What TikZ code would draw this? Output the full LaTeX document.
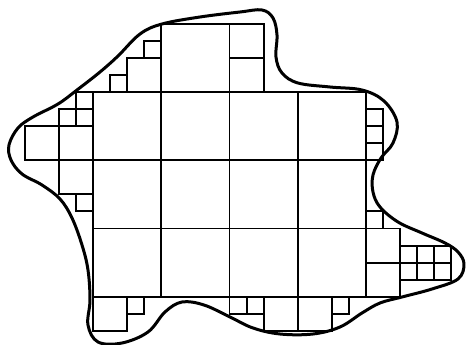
\documentclass[tikz,border=0pt]{standalone}
\begin{document}
\begin{tikzpicture}[x=1pt,y=-1pt,
  cell/.style={draw=black, line width=1.9pt},
  outline/.style={draw=black, line width=3pt, line join=round}]
\useasboundingbox (0,0) rectangle (467,345);
\begin{scope}[xshift=93pt,yshift=-92pt,x=17.0625pt,y=-17.0625pt]
  % main 4x3 block of big squares
  \foreach \i in {0,4,8,12} \foreach \j in {0,4,8}
    \draw[cell] (\i,\j) rectangle ++(4,4);
  % top
  \draw[cell] (4,-4) rectangle (8,0);
  \draw[cell] (8,-4) rectangle (10,-2);
  \draw[cell] (8,-2) rectangle (10,0);
  \draw[cell] (2,-2) rectangle (4,0);
  \draw[cell] (3,-3) rectangle (4,-2);
  \draw[cell] (1,-1) rectangle (2,0);
  % left
  \draw[cell] (-1,0) rectangle (0,1);
  \draw[cell] (-1,1) rectangle (0,2);
  \draw[cell] (-2,1) rectangle (-1,2);
  \draw[cell] (-2,2) rectangle (0,4);
  \draw[cell] (-4,2) rectangle (-2,4);
  \draw[cell] (-2,4) rectangle (0,6);
  \draw[cell] (-1,6) rectangle (0,7);
  % bottom
  \draw[cell] (0,12) rectangle (2,14);
  \draw[cell] (2,12) rectangle (3,13);
  \draw[cell] (8,12) rectangle (9,13);
  \draw[cell] (9,12) rectangle (10,13);
  \draw[cell] (10,12) rectangle (12,14);
  \draw[cell] (12,12) rectangle (14,14);
  \draw[cell] (14,12) rectangle (15,13);
  % right
  \draw[cell] (16,1) rectangle (17,2);
  \draw[cell] (16,2) rectangle (17,3);
  \draw[cell] (16,3) rectangle (17,4);
  \draw[cell] (16,7) rectangle (17,8);
  \draw[cell] (16,8) rectangle (18,10);
  \draw[cell] (16,10) rectangle (18,12);
  \foreach \i in {18,19,20} \foreach \j in {9,10}
    \draw[cell] (\i,\j) rectangle ++(1,1);
\end{scope}
\draw[outline] plot[smooth cycle, tension=0.6] coordinates {
 (200,17) (240,12) (262,10) (273,18) (277,35) (276,57) (282,73) (298,83)
 (330,87) (362,90) (384,101) (397,122) (393,143) (381,158) (373,175)
 (373,192) (380,207) (398,222) (422,233) (445,243) (458,252) (464,264)
 (458,279) (432,289) (402,297) (380,303) (362,313) (340,327) (313,334)
 (280,334) (253,328) (230,317) (204,305) (182,302) (165,312) (148,332)
 (122,343) (98,342) (88,325) (90,300) (88,270) (82,245) (72,218) (60,199)
 (42,185) (22,174) (11,160) (9,145) (18,128) (33,117) (58,104) (77,90)
 (100,72) (118,56) (140,34) (162,24)};
\end{tikzpicture}
\end{document}
